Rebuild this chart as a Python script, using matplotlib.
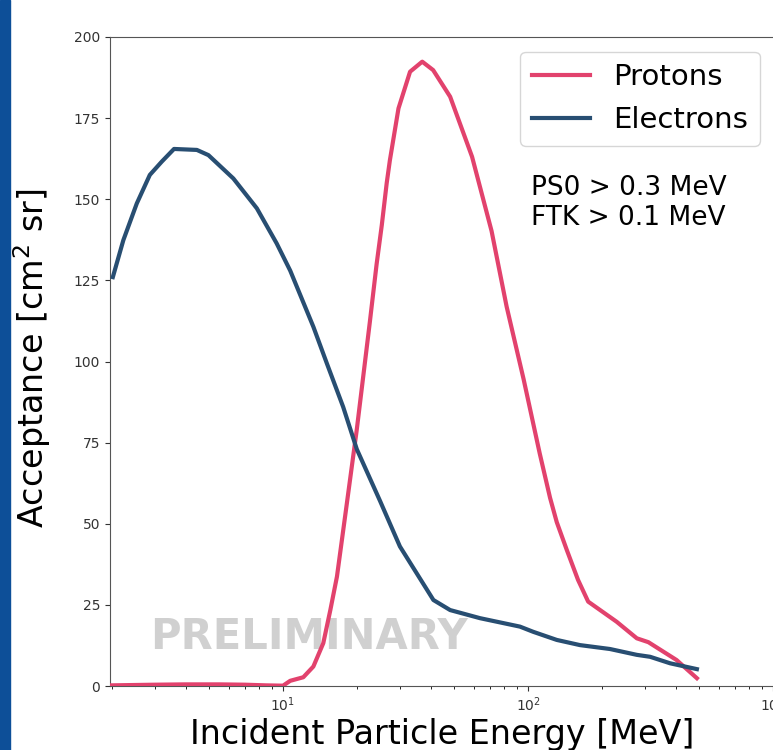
import matplotlib
matplotlib.use("Agg")
import matplotlib.pyplot as plt
from matplotlib.patches import Rectangle

# energies [MeV] and acceptance [cm^2 sr]
e_energy = [2.02, 2.23, 2.53, 2.86, 3.20, 3.59, 4.45, 4.96, 6.27, 7.82, 9.42,
            10.7, 13.3, 15.1, 17.6, 20.0, 24.9, 30.0, 41.1, 48.1, 63.7, 92.7,
            105, 131, 163, 216, 278, 315, 380, 489]
e_accept = [126.0, 137.4, 148.7, 157.5, 161.6, 165.5, 165.2, 163.6, 156.4, 147.2, 136.4,
            128.0, 110.7, 99.4, 86.0, 73.0, 57.0, 43.0, 26.5, 23.4, 20.9, 18.3,
            16.7, 14.2, 12.6, 11.4, 9.6, 9.0, 7.0, 5.2]

p_energy = [2.0, 3.0, 4.0, 5.5, 7.0, 8.5, 10.0, 10.7, 12.1, 13.3, 14.6, 15.6,
            16.6, 18.2, 20.0, 21.3, 22.6, 24.1, 25.3, 26.5, 27.3, 29.6, 33.0, 37.0,
            41.0, 48.1, 59.1, 71.0, 81.8, 95.9, 111.6, 123, 131, 144, 160, 176,
            230, 278, 310, 404, 489]
p_accept = [0.2, 0.4, 0.5, 0.5, 0.4, 0.2, 0.1, 1.6, 2.7, 6.0, 13.2, 23.4,
            33.7, 56.0, 79.0, 96.0, 112.0, 130.0, 142.0, 155.0, 162.0, 178.0, 189.3, 192.4,
            189.8, 181.6, 163.1, 140.2, 116.9, 94.6, 71.7, 58.0, 50.5, 41.9, 32.7, 26.0,
            19.8, 14.7, 13.5, 8.0, 2.4]

y_ticks = [0, 25, 50, 75, 100, 125, 150, 175, 200]

proton_color = "#e2426d"
electron_color = "#284e72"

fig = plt.figure(figsize=(7.73, 7.5), dpi=100)
ax = fig.add_axes([110 / 773, 64 / 750, 664.5 / 773, 649 / 750])

# blue side bar of the slide
fig.patches.append(Rectangle((0, 0), 10 / 773, 1, transform=fig.transFigure,
                             color="#0d4f98", zorder=0))

ax.plot(p_energy, p_accept, color=proton_color, lw=3, label="Protons", zorder=3)
ax.plot(e_energy, e_accept, color=electron_color, lw=3, label="Electrons", zorder=3)

ax.text(0.30, 0.075, "PRELIMINARY", transform=ax.transAxes, fontsize=30,
        fontweight="bold", color="#d0d0d0", ha="center", va="center", zorder=1)

ax.set_xscale("log")
ax.set_xlim(1.967, 1014)
ax.set_ylim(0, 200)
ax.set_yticks(y_ticks)
ax.tick_params(labelsize=10, colors="#333333")
for s in ax.spines.values():
    s.set_color("#555555")

ax.set_xlabel("Incident Particle Energy [MeV]", fontsize=24)
ax.set_ylabel("Acceptance [cm$^2$ sr]", fontsize=24)
ax.xaxis.set_label_coords(0.5, -0.05)
ax.yaxis.set_label_coords(-0.086, 0.505)

ax.legend(loc="upper right", fontsize=21)
ax.text(0.633, 0.788, "PS0 > 0.3 MeV\nFTK > 0.1 MeV", transform=ax.transAxes,
        fontsize=19, ha="left", va="top")

fig.savefig("out.png", dpi=100)
